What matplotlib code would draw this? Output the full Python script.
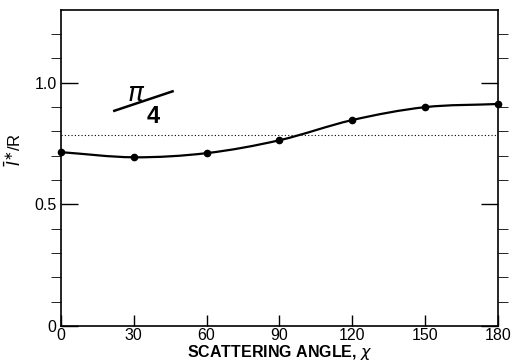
import matplotlib
matplotlib.use('Agg')
import matplotlib.pyplot as plt
import numpy as np
from matplotlib.path import Path
from matplotlib.patches import PathPatch

plt.rcParams['font.family'] = ['Liberation Sans', 'DejaVu Sans']
plt.rcParams['mathtext.fontset'] = 'dejavusans'

# data
angle = [0, 30, 60, 90, 120, 150, 180]
ratio = [0.715, 0.694, 0.711, 0.764, 0.847, 0.900, 0.913]
ref_level = np.pi / 4
x_ticks = [0, 30, 60, 90, 120, 150, 180]
y_major = [0, 0.5, 1.0]
y_labels = ['0', '0.5', '1.0']

fig = plt.figure(figsize=(5.16, 3.64), dpi=100)
ax = fig.add_axes([0.118, 0.104, 0.847, 0.869])

# smooth curve through the points (Catmull-Rom as cubic bezier)
x = np.array(angle, float)
y = np.array(ratio, float)
px = np.concatenate([[2 * x[0] - x[1]], x, [2 * x[-1] - x[-2]]])
py = np.concatenate([[2 * y[0] - y[1]], y, [2 * y[-1] - y[-2]]])
verts = [(x[0], y[0])]
codes = [Path.MOVETO]
for i in range(1, len(px) - 2):
    c1 = (px[i] + (px[i + 1] - px[i - 1]) / 6, py[i] + (py[i + 1] - py[i - 1]) / 6)
    c2 = (px[i + 1] - (px[i + 2] - px[i]) / 6, py[i + 1] - (py[i + 2] - py[i]) / 6)
    verts += [c1, c2, (px[i + 1], py[i + 1])]
    codes += [Path.CURVE4] * 3
ax.add_patch(PathPatch(Path(verts, codes), fill=False, lw=1.6, color='black'))
ax.plot(angle, ratio, 'o', color='black', ms=4.5, clip_on=False)

ax.plot([0, 180], [ref_level, ref_level], color='black', lw=0.8, ls=(0, (1, 2)))

ax.text(31, 0.955, r'$\pi$', fontsize=19, ha='center', va='center')
ax.text(38, 0.862, '4', fontsize=17, ha='center', va='center', fontweight='bold')
ax.plot([22, 46], [0.885, 0.965], color='black', lw=1.8)

ax.set_xlim(0, 180)
ax.set_ylim(0, 1.3)
ax.set_xticks(x_ticks)
ax.set_yticks(y_major)
ax.set_yticklabels(y_labels)
ax.set_yticks(np.arange(0.1, 1.3, 0.1), minor=True)
ax.tick_params(axis='both', direction='in', labelsize=11.5, width=1, colors='black')
ax.tick_params(axis='y', which='major', length=12, right=True, pad=3)
ax.tick_params(axis='y', which='minor', length=7, right=True)
ax.tick_params(axis='x', which='major', length=8, pad=1)
for s in ax.spines.values():
    s.set_linewidth(1.2)

ax.set_xlabel(r'SCATTERING ANGLE, $\chi$', fontsize=11.5, fontweight='bold', labelpad=0)
ax.set_ylabel(r'$\bar{\mathit{I}}^{\ast}$/R', fontsize=12)
ax.yaxis.set_label_coords(-0.085, 0.56)

fig.savefig('out.png', dpi=100)
